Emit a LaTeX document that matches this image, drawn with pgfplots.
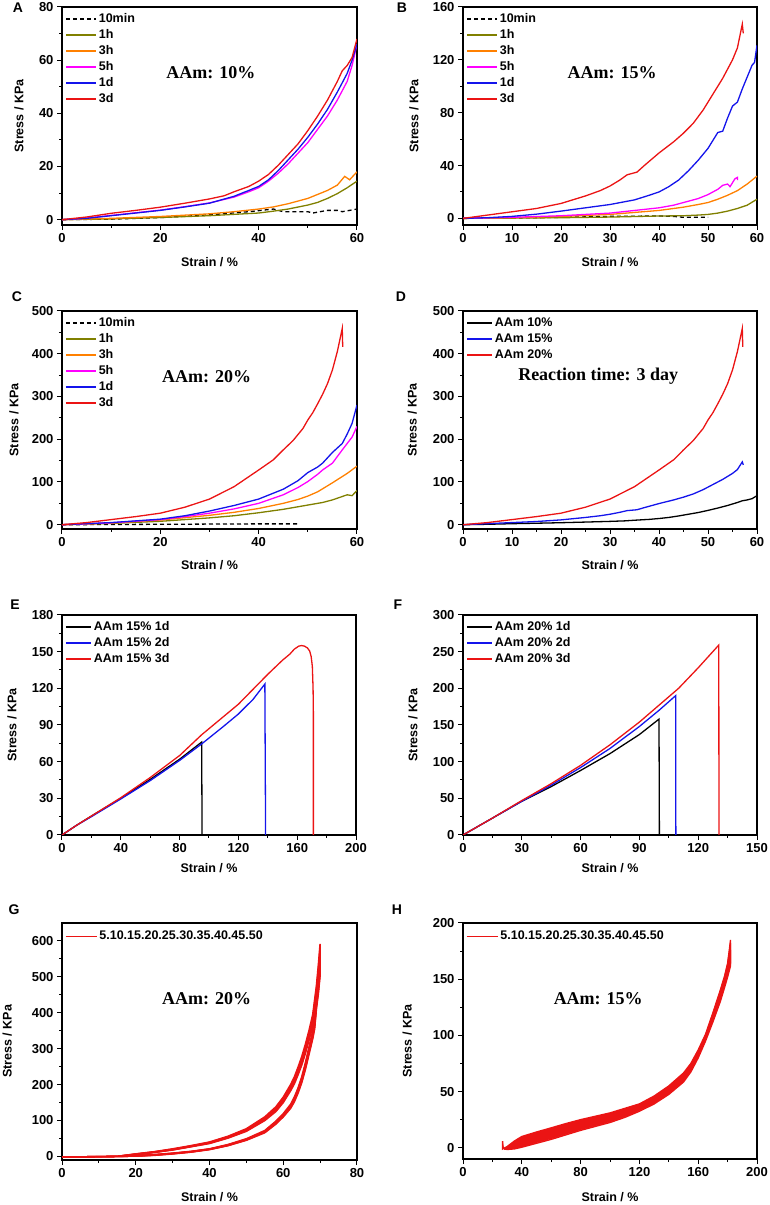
\documentclass[border=0pt]{standalone}
\usepackage{fontspec}
\setmainfont{Liberation Sans}
\newfontfamily\tnr{Liberation Serif}
\usepackage{pgfplots}
\pgfplotsset{compat=1.18}

\definecolor{olv}{RGB}{128,128,0}
\definecolor{org}{RGB}{255,128,0}
\definecolor{mag}{RGB}{255,0,255}
\definecolor{blu}{RGB}{20,20,235}
\definecolor{rd}{RGB}{235,20,20}

\pgfplotsset{
  panel/.style={
    scale only axis, anchor=south west,
    axis line style={line width=1.3pt},
    tick align=outside, xtick pos=bottom, ytick pos=left,
    major tick length=5pt, minor tick length=3pt,
    every tick/.style={black, line width=1pt},
    minor x tick num=1, minor y tick num=1,
    tick label style={font=\fontsize{13}{14}\selectfont\bfseries},
    /pgf/number format/assume math mode=true,
    scaled ticks=false,
    xlabel={Strain / \%}, ylabel={Stress / KPa},
    every axis y label/.style={rotate=90, anchor=center, font=\fontsize{12.5}{14}\selectfont\bfseries},
    every axis x label/.style={anchor=center, font=\fontsize{12.5}{14}\selectfont\bfseries},
    legend style={draw=none, fill=none, at={(0,1)}, anchor=north west,
      font=\fontsize{12.5}{15}\selectfont\bfseries, row sep=0pt,
      inner xsep=3pt, inner ysep=4pt,
      nodes={inner ysep=2pt, text height=9pt, text depth=3pt}},
    legend cell align=left,
    every axis plot/.append style={line width=1.3pt},
  },
  leg30/.style={legend image code/.code={\draw[##1, line width=1.6pt] (0pt,0pt) -- (30pt,0pt);}},
  leg25/.style={legend image code/.code={\draw[##1, line width=1.6pt] (0pt,0pt) -- (25pt,0pt);}},
  legthin/.style={legend image code/.code={\draw[##1, line width=1.2pt] (0pt,0pt) -- (31pt,0pt);}},
}
\newcommand{\ann}{\tnr\bfseries\fontsize{18}{20}\selectfont}
\newcommand{\plet}{\bfseries\fontsize{14}{16}\selectfont}

\begin{document}
\begin{tikzpicture}
\useasboundingbox (0pt,0pt) rectangle (770pt,1205pt);

% ---------- A ----------
\begin{axis}[panel, leg30, at={(62pt,980pt)}, width=295pt, height=218pt,
  xmin=0, xmax=60, ymin=-2, ymax=80, xtick={0,20,40,60}, ytick={0,20,40,60,80},
  xlabel style={at={(axis description cs:0.5,-0.17)}},
  ylabel style={at={(axis description cs:-0.146,0.5)}}]
\addplot[black, dash pattern=on 4pt off 3pt] coordinates {(0,0)(10,0.2)(20,0.8)(30,1.8)(38,3)(43,4)(45,3)(50,3)(51,2.5)(54,3.5)(56,3.5)(57,3)(60,4)};
\addlegendentry{10min}
\addplot[olv] coordinates {(0,0)(10,0.3)(20,0.8)(30,1.5)(35,2)(40,2.5)(43,3.2)(46,4)(50,5.5)(52,6.5)(54,8)(56,9.8)(58,12)(60,14.5)};
\addlegendentry{1h}
\addplot[org] coordinates {(0,0)(10,0.5)(20,1.2)(30,2.2)(35,3)(40,4)(43,4.8)(46,6)(50,8)(52,9.5)(54,11)(56,13)(57.5,16.3)(58.5,15)(60,18)};
\addlegendentry{3h}
\addplot[mag] coordinates {(0,0)(5,0.6)(10,1.6)(15,2.6)(20,3.6)(25,4.9)(30,6.3)(35,8.5)(38,10.5)(40,12)(42,14.5)(44,17.5)(46,21)(48,25)(50,29)(52,34)(54,39)(56,45)(58,52)(59,58)(60,66)};
\addlegendentry{5h}
\addplot[blu] coordinates {(0,0)(5,0.5)(10,1.5)(15,2.5)(20,3.5)(25,4.8)(30,6.2)(35,8.8)(38,11)(40,12.5)(42,15)(44,18.5)(46,22.5)(48,26.5)(50,31)(52,36)(54,41.5)(56,48)(58,55)(59,60)(60,66)};
\addlegendentry{1d}
\addplot[rd] coordinates {(0,0)(5,1)(10,2.4)(15,3.5)(20,4.7)(25,6.2)(30,7.8)(33,9)(35,10.5)(38,12.5)(40,14.5)(42,17)(44,20.5)(46,24.5)(48,28.5)(50,33.5)(52,39)(54,45)(55,48.5)(56,52)(57,56)(58,58)(59,61)(60,68)};
\addlegendentry{3d}
\node[font=\ann] at (rel axis cs:0.505,0.70) {AAm: 10\%};
\end{axis}

% ---------- B ----------
\begin{axis}[panel, leg30, at={(463pt,980pt)}, width=294pt, height=218pt,
  xmin=0, xmax=60, ymin=-5, ymax=160, xtick={0,10,...,60}, ytick={0,40,80,120,160},
  xlabel style={at={(axis description cs:0.5,-0.17)}},
  ylabel style={at={(axis description cs:-0.167,0.5)}}]
\addplot[black, dash pattern=on 4pt off 3pt] coordinates {(0,0)(10,0.3)(20,0.8)(30,1.5)(40,1.8)(43,1.5)(45,0.8)(50,0.8)};
\addlegendentry{10min}
\addplot[olv] coordinates {(0,0)(10,0.2)(20,0.5)(30,1)(40,1.8)(45,2)(48,2.5)(50,3)(52,4)(54,5.5)(56,7.5)(58,10)(60,14.5)};
\addlegendentry{1h}
\addplot[org] coordinates {(0,0)(10,0.5)(20,1.5)(30,3)(35,4.5)(40,6)(45,8.5)(48,10.5)(50,12)(52,14.5)(54,17.5)(56,21)(58,26)(60,32)};
\addlegendentry{3h}
\addplot[mag] coordinates {(0,0)(10,0.8)(20,2)(30,4)(35,6)(40,8)(43,10)(45,12)(48,15)(50,18)(52,22)(53,25)(54,26)(54.5,24)(55.5,30)(56,31)(56,29)};
\addlegendentry{5h}
\addplot[blu] coordinates {(0,0)(5,0.5)(10,1.5)(15,3.2)(20,5.5)(25,8)(30,10.5)(35,14)(38,17.5)(40,20)(42,24)(44,29)(46,36)(48,44)(50,53)(51,59)(52,65)(53,66)(54,76)(55,85)(56,88)(57,98)(58,107)(59,116)(59.5,118)(60,131)};
\addlegendentry{1d}
\addplot[rd] coordinates {(0,0)(5,2.5)(10,5)(15,7.5)(20,11.3)(25,17)(28,21)(30,24.5)(32,29)(33.5,33)(35.5,35)(37,40)(40,49.5)(43,58)(45,64.5)(47,72)(49,82)(51,94)(53,106)(55,120)(56,129)(57,147)(57.2,140)};
\addlegendentry{3d}
\node[font=\ann] at (rel axis cs:0.507,0.70) {AAm: 15\%};
\end{axis}

% ---------- C ----------
\begin{axis}[panel, leg30, at={(62pt,676pt)}, width=295pt, height=218pt,
  xmin=0, xmax=60, ymin=-10, ymax=500, xtick={0,20,40,60}, ytick={0,100,...,500},
  xlabel style={at={(axis description cs:0.5,-0.165)}},
  ylabel style={at={(axis description cs:-0.163,0.5)}}]
\addplot[black, dash pattern=on 4pt off 3pt] coordinates {(0,0)(10,0.5)(20,1)(30,1.5)(40,2)(48,2)};
\addlegendentry{10min}
\addplot[olv] coordinates {(0,0)(10,3)(20,8)(30,16)(35,21)(40,28)(45,36)(50,46)(53,52)(55,58)(57,66)(58,70)(59,68)(60,80)};
\addlegendentry{1h}
\addplot[org] coordinates {(0,0)(10,4)(20,11)(30,22)(35,29)(40,38)(45,50)(48,59)(50,67)(52,77)(55,98)(58,120)(60,137)};
\addlegendentry{3h}
\addplot[mag] coordinates {(0,0)(10,4.5)(20,12)(25,19)(30,27)(35,37)(40,50)(45,70)(48,87)(50,101)(52,118)(53,128)(55,144)(57,175)(58,190)(59,205)(60,230)};
\addlegendentry{5h}
\addplot[blu] coordinates {(0,0)(10,5)(20,13)(25,21)(30,32)(35,45)(40,60)(45,83)(48,103)(50,122)(52,135)(53,144)(55,169)(57,190)(58,212)(59,237)(60,280)};
\addlegendentry{1d}
\addplot[rd] coordinates {(0,0)(5,5)(10,12)(15,19)(20,27)(25,41)(30,60)(35,89)(40,128)(43,152)(45,175)(47,197)(49,225)(50,245)(51,262)(52,283)(53,305)(54,330)(55,362)(56,405)(57,459)(57.1,416)};
\addlegendentry{3d}
\node[font=\ann] at (rel axis cs:0.49,0.70) {AAm: 20\%};
\end{axis}

% ---------- D ----------
\begin{axis}[panel, leg25, at={(463pt,676pt)}, width=294pt, height=218pt,
  xmin=0, xmax=60, ymin=-10, ymax=500, xtick={0,10,...,60}, ytick={0,100,...,500},
  xlabel style={at={(axis description cs:0.5,-0.165)}},
  ylabel style={at={(axis description cs:-0.173,0.5)}}]
\addplot[black] coordinates {(0,0)(5,1)(10,2.4)(15,3.5)(20,4.7)(25,6.2)(30,7.8)(33,9)(35,10.5)(38,12.5)(40,14.5)(42,17)(44,20.5)(46,24.5)(48,28.5)(50,33.5)(52,39)(54,45)(55,48.5)(56,52)(57,56)(58,58)(59,61)(60,68)};
\addlegendentry{AAm 10\%}
\addplot[blu] coordinates {(0,0)(5,2.5)(10,5)(15,7.5)(20,11.3)(25,17)(28,21)(30,24.5)(32,29)(33.5,33)(35.5,35)(37,40)(40,49.5)(43,58)(45,64.5)(47,72)(49,82)(51,94)(53,106)(55,120)(56,129)(57,147)(57.2,140)};
\addlegendentry{AAm 15\%}
\addplot[rd] coordinates {(0,0)(5,5)(10,12)(15,19)(20,27)(25,41)(30,60)(35,89)(40,128)(43,152)(45,175)(47,197)(49,225)(50,245)(51,262)(52,283)(53,305)(54,330)(55,362)(56,405)(57,459)(57.1,416)};
\addlegendentry{AAm 20\%}
\node[font=\ann] at (rel axis cs:0.46,0.70) {Reaction time: 3 day};
\end{axis}

% ---------- E ----------
\begin{axis}[panel, leg25, at={(62pt,370pt)}, width=294pt, height=220pt,
  xmin=0, xmax=200, ymin=0, ymax=180, xtick={0,40,...,200}, ytick={0,30,...,180},
  xlabel style={at={(axis description cs:0.5,-0.15)}},
  ylabel style={at={(axis description cs:-0.170,0.5)}}]
\addplot[black] coordinates {(0,0)(10,8)(20,15.5)(40,30)(60,45.5)(80,62)(95,76)(95.3,0)};
\addlegendentry{AAm 15\% 1d}
\addplot[blu] coordinates {(0,0)(10,8)(20,15)(40,29.5)(60,44.5)(80,61)(95,74.5)(110,89)(120,99)(130,111)(138,123.5)(138.5,0)};
\addlegendentry{AAm 15\% 2d}
\addplot[rd] coordinates {(0,0)(10,8)(20,15.5)(40,30.5)(60,47)(80,65)(95,82)(110,97)(120,107)(140,131.5)(150,143)(155,148)(158,152)(161,154.5)(163,155)(165,154.5)(167,153)(168.5,150.5)(169.5,146)(170.3,138)(170.8,120)(171,100)(171,0)};
\addlegendentry{AAm 15\% 3d}
\end{axis}

% ---------- F ----------
\begin{axis}[panel, leg25, at={(463pt,370pt)}, width=294pt, height=220pt,
  xmin=0, xmax=150, ymin=0, ymax=300, xtick={0,30,...,150}, ytick={0,50,...,300},
  xlabel style={at={(axis description cs:0.5,-0.15)}},
  ylabel style={at={(axis description cs:-0.170,0.5)}}]
\addplot[black] coordinates {(0,0)(15,23)(30,46)(45,66)(60,88)(75,111)(90,137)(100,158)(100.2,0)};
\addlegendentry{AAm 20\% 1d}
\addplot[blu] coordinates {(0,0)(15,23)(30,46)(45,68)(60,92)(75,118)(90,148)(100,170)(108.5,190)(108.6,0)};
\addlegendentry{AAm 20\% 2d}
\addplot[rd] coordinates {(0,0)(15,23)(30,47)(45,70)(60,95)(75,123)(90,154)(100,177)(110,200)(120,228)(130.5,259)(130.6,0)};
\addlegendentry{AAm 20\% 3d}
\end{axis}

% ---------- G ----------
\begin{axis}[panel, legthin, at={(62pt,45pt)}, width=295pt, height=237pt,
  xmin=0, xmax=80, ymin=-10, ymax=650, xtick={0,20,...,80}, ytick={0,100,...,600},
  xlabel style={at={(axis description cs:0.5,-0.156)}},
  ylabel style={at={(axis description cs:-0.186,0.5)}},
  legend style={inner ysep=5pt}]
\addplot[rd, line width=1.6pt] coordinates {(0,-2)(10,-1)(15,0)(20,7)(25,13)(30,21)(35,30)(40,40)(45,56)(50,77)(55,110)(58,138)(60,165)(62,200)(63,221)(64,248)(65,277)(66,312)(67,351)(68,395)(68.5,435)(69,475)(69.5,530)(70,592)
  (70,537)(69.5,480)(69,440)(68.5,379)(68,350)(67,305)(66,260)(65,221)(64,190)(63,165)(62,145)(60,119)(58,98)(55,72)(50,49)(45,33)(40,21)(35,14)(30,9)(25,5)(20,2)(15,0)(10,-1)(0,-2)};
\addlegendentry{5.10.15.20.25.30.35.40.45.50}
\addplot[rd, line width=1.6pt, forget plot] coordinates {(0,-2)(15,0)(20,6.5)(25,12.5)(30,20)(35,29)(40,39)(45,54.5)(50,75)(55,107)(58,134)(60,160)(62,195)(63,215)(64,242)(65,270)(66,305)(67,343)(68,386)(68.5,425)(69,465)(69.5,518)(70,578)
  (70,528)(69.5,472)(69,432)(68.5,372)(68,344)(67,300)(66,255)(65,216)(64,186)(63,161)(62,142)(60,116)(58,96)(55,70.5)(50,48)(45,32)(40,20.5)(35,13.5)(30,8.5)(25,4.5)(20,1.5)(15,0)(0,-2)};
\addplot[rd, line width=1.6pt, forget plot] coordinates {(0,-2)(15,0)(20,6)(25,12)(30,19)(35,28)(40,38)(45,53)(50,73)(55,104)(58,130)(60,156)(62,190)(63,210)(64,236)(65,264)(66,298)(67,336)(68,378)(68.5,416)(69,456)(69.5,505)(70,565)
  (70,520)(69.5,465)(69,425)(68.5,366)(68,338)(67,294)(66,250)(65,212)(64,182)(63,158)(62,139)(60,114)(58,94)(55,69)(50,47)(45,31)(40,20)(35,13)(30,8)(25,4)(20,1)(15,0)(0,-2)};
\addplot[rd, line width=1.6pt, forget plot] coordinates {(0,-2)(15,0)(20,5.5)(25,11.5)(30,18.5)(35,27.5)(40,37)(45,52)(50,71.5)(55,102)(58,127.5)(60,153)(62,186.5)(63,206)(64,231.5)(65,259)(66,292.5)(67,330)(68,371)(68.5,408)(69,448)(69.5,496)(70,555)
  (70,512)(69.5,458)(69,418)(68.5,360)(68,333)(67,289.5)(66,246)(65,208.5)(64,179)(63,155)(62,136.5)(60,112)(58,92)(55,67.5)(50,46)(45,30.5)(40,19.5)(35,12.5)(30,7.5)(25,3.5)(20,1)(15,0)(0,-2)};
\addplot[rd, line width=1.6pt, forget plot] coordinates {(0,-2)(15,0)(20,5)(25,11)(30,18)(35,27)(40,36)(45,51)(50,70)(55,100)(58,125)(60,150)(62,183)(63,202)(64,227)(65,254)(66,287)(67,324)(68,364)(68.5,400)(69,440)(69.5,487)(70,545)
  (70,505)(69.5,452)(69,412)(68.5,355)(68,328)(67,285)(66,242)(65,205)(64,176)(63,152)(62,134)(60,110)(58,90)(55,66)(50,45)(45,30)(40,19)(35,12)(30,7)(25,3)(20,1)(15,0)(0,-2)};
\node[font=\ann] at (rel axis cs:0.49,0.68) {AAm: 20\%};
\end{axis}

% ---------- H ----------
\begin{axis}[panel, legthin, at={(463pt,46pt)}, width=294pt, height=236pt,
  xmin=0, xmax=200, ymin=-10, ymax=200, xtick={0,40,...,200}, ytick={0,50,...,200},
  xlabel style={at={(axis description cs:0.5,-0.161)}},
  ylabel style={at={(axis description cs:-0.190,0.5)}},
  legend style={inner ysep=5pt}]
\addplot[rd, line width=1.4pt, fill=rd] coordinates {(27,6)(27,-1)(30,1)(35,6)(40,10)(50,14)(60,17.7)(70,21.5)(80,25)(90,28)(100,31)(110,35)(120,39)(130,46)(140,55)(150,66.5)(155,75)(160,87)(165,101)(170,120)(175,140)(178,153)(180,164)(181,174)(182,185)
  (182,165)(180,155)(178,146)(175,133)(170,115)(165,98)(160,83)(155,70)(150,60.5)(140,49)(130,40.5)(120,34)(110,28.5)(100,24)(90,20.5)(80,17)(70,13)(60,9)(50,5.5)(40,1.5)(35,0)(30,-1)(28,-1)};
\addlegendentry{5.10.15.20.25.30.35.40.45.50}
\addplot[rd, line width=1.4pt, forget plot] coordinates {(28,-1)(30,0.5)(35,5)(40,9)(50,13)(60,16.5)(70,20.5)(80,24)(90,27)(100,30)(110,34)(120,38)(130,45)(140,54)(150,65)(155,74)(160,86)(165,100)(170,119)(175,139)(178,152)(180,163)(181,172)(182,182)
  (182,164)(180,154)(178,145)(175,132)(170,114)(165,97)(160,82)(155,69)(150,59.5)(140,48.5)(130,40)(120,33.5)(110,28)(100,23.5)(90,20)(80,16.5)(70,12.5)(60,8.5)(50,5)(40,1.2)(35,-0.2)(30,-1)(28,-1)};
\addplot[rd, line width=1.4pt, forget plot] coordinates {(28,-1)(30,-0.5)(35,3)(40,6)(50,10.5)(60,14)(70,18)(80,21.5)(90,24.5)(100,28)(110,32)(120,36)(130,43)(140,52)(150,63)(155,72)(160,84)(165,98)(170,117)(175,137)(178,150)(180,160)(181,168)(182,176)
  (182,162)(180,152)(178,143)(175,130)(170,112)(165,95)(160,80)(155,67.5)(150,58.5)(140,47.5)(130,39)(120,32.5)(110,27)(100,22.5)(90,19)(80,15.5)(70,11.5)(60,7.5)(50,4)(40,0.5)(35,-1)(30,-1.5)(28,-1)};
\node[font=\ann] at (rel axis cs:0.46,0.68) {AAm: 15\%};
\end{axis}

% panel letters
\node[font=\plet] at (18pt,1197pt) {A};
\node[font=\plet] at (402pt,1197pt) {B};
\node[font=\plet] at (17pt,908pt) {C};
\node[font=\plet] at (401pt,908pt) {D};
\node[font=\plet] at (15pt,600pt) {E};
\node[font=\plet] at (398pt,600pt) {F};
\node[font=\plet] at (14pt,295pt) {G};
\node[font=\plet] at (397pt,295pt) {H};
\end{tikzpicture}
\end{document}
